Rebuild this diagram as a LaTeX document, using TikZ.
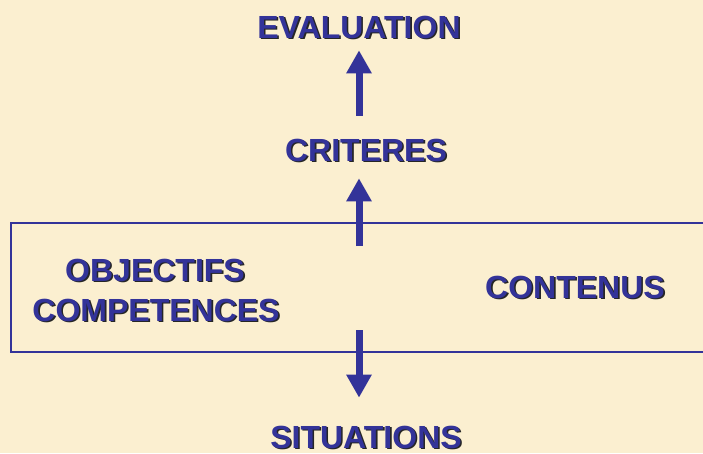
\documentclass[tikz,border=0pt]{standalone}
\usepackage{fontspec}
\setmainfont{Liberation Sans}
\usetikzlibrary{arrows.meta}
\definecolor{parch}{HTML}{FBEFD0}
\definecolor{navy}{HTML}{333399}
\newcommand\shadowtxt[1]{\rlap{\smash{\raisebox{-1.6pt}{\hspace*{1.6pt}\color{black!85}#1}}}#1}
\tikzset{
  lbl/.style={anchor=base, inner sep=0pt, outer sep=0pt, text=navy,
    font=\fontsize{32}{36}\selectfont\bfseries},
  bigarrow/.style={draw=navy, line width=7pt,
    -{Triangle[width=24pt,length=23pt]}},
  frame/.style={draw=navy, line width=2.5pt, inner sep=0pt, outer sep=0pt,
    minimum width=789pt, minimum height=129pt}
}
\begin{document}
\begin{tikzpicture}[x=1pt,y=-1pt]
\useasboundingbox (0,0) rectangle (703,453);
\fill[parch] (0,0) rectangle (703,453);
\clip (0,0) rectangle (703,453);
\node[frame] (box) at (405.5,287.5) {};
\node[lbl] (eval) at (359,38) {\shadowtxt{EVALUATION}};
\node[lbl] (crit) at (366,161) {\shadowtxt{CRITERES}};
\node[lbl] (obj) at (155,281) {\shadowtxt{OBJECTIFS}};
\node[lbl] (comp) at (156,321) {\shadowtxt{COMPETENCES}};
\node[lbl] (cont) at (575,298) {\shadowtxt{CONTENUS}};
\node[lbl] (situ) at (366,448) {\shadowtxt{SITUATIONS}};
\coordinate (a2s) at (359,246);
\coordinate (a3s) at (359,330);
\draw[bigarrow, shorten <=22.9pt, shorten >=12pt] (crit.north -| eval.south) -- (eval.south);
\draw[bigarrow, shorten >=17pt] (a2s) -- (a2s |- crit.south);
\draw[bigarrow, shorten >=28pt] (a3s) -- (a3s |- situ.north);
\end{tikzpicture}
\end{document}
